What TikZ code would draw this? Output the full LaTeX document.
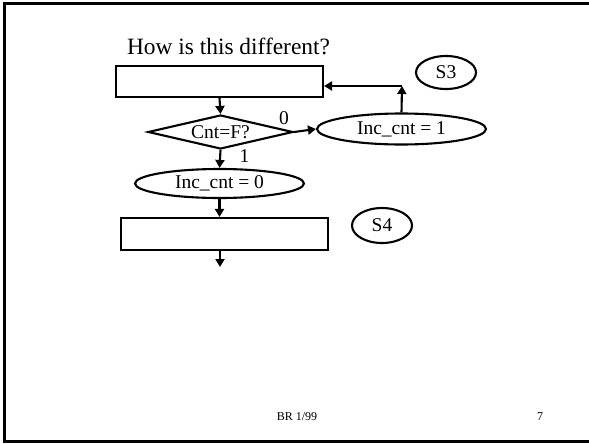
\documentclass[tikz,border=0pt]{standalone}
\usepackage{fontspec}
\setmainfont{Liberation Serif}
\usetikzlibrary{arrows.meta,shapes.geometric}
\begin{document}
\begin{tikzpicture}[x=1pt,y=-1pt,
  line width=2.1pt,
  box/.style={draw,rectangle,inner sep=0pt,minimum width=207pt,minimum height=31pt},
  oval/.style={draw,ellipse,inner sep=0pt,font=\fontsize{19.5}{21}\selectfont},
  test/.style={draw,diamond,aspect=4.3,inner sep=0pt,minimum width=145pt,minimum height=34pt,font=\fontsize{19.5}{21}\selectfont},
  lbl/.style={font=\fontsize{19.5}{21}\selectfont,inner sep=0pt},
  arr/.style={-{Triangle[length=8pt,width=9pt]}},
  rim/.style={line width=3pt,line cap=rect}]
\useasboundingbox (0,0) rectangle (589,444);
% slide frame: left, top and bottom edges
\draw[rim] (4.5,4) -- (4.5,441.5);
\draw[rim] (4.5,4) -- (592,4);
\draw[rim] (4.5,441.5) -- (592,441.5);
% title
\node[anchor=base,inner sep=0pt,font=\fontsize{23.4}{26}\selectfont] (title) at (228.5,55) {How is this different?};
% flowchart elements
\node[box] (top) at (219.5,81.5) {};
\node[test] (dia) at (220.5,132) {Cnt=F?};
\node[oval,minimum width=169pt,minimum height=29pt] (ell0) at (219.5,183.5) {Inc\_cnt = 0};
\node[oval,minimum width=169pt,minimum height=31pt] (ell1) at (401.5,129) {Inc\_cnt = 1};
\node[box,minimum height=32pt] (bot) at (224.5,234) {};
\node[oval,minimum width=60pt,minimum height=33pt] (s3) at (446,72.5) {S3};
\node[oval,minimum width=60pt,minimum height=35pt] (s4) at (382,225.5) {S4};
% branch labels
\node[lbl] (zero) at (284,118) {0};
\node[lbl] (one) at (244.5,156) {1};
% connectors
\coordinate (corner) at (402,86);
\coordinate (exit) at (220,267);
\draw[arr] (top.south) -- (dia.north);
\draw[arr] (dia.south) -- (ell0.north);
\draw[arr] (dia.east) -- (ell1.west);
\draw[arr] (ell0.south) -- (ell0.south |- bot.north);
\draw[arr] (exit |- bot.south) -- (exit);
\draw[arr] (ell1.north) -- (corner);
\draw[arr] (corner) -- (corner -| top.east);
% footer
\node[inner sep=0pt,font=\fontsize{12}{14}\selectfont] (foot) at (297,417) {BR 1/99};
\node[inner sep=0pt,font=\fontsize{12}{14}\selectfont] (page) at (540,417) {7};
\end{tikzpicture}
\end{document}
